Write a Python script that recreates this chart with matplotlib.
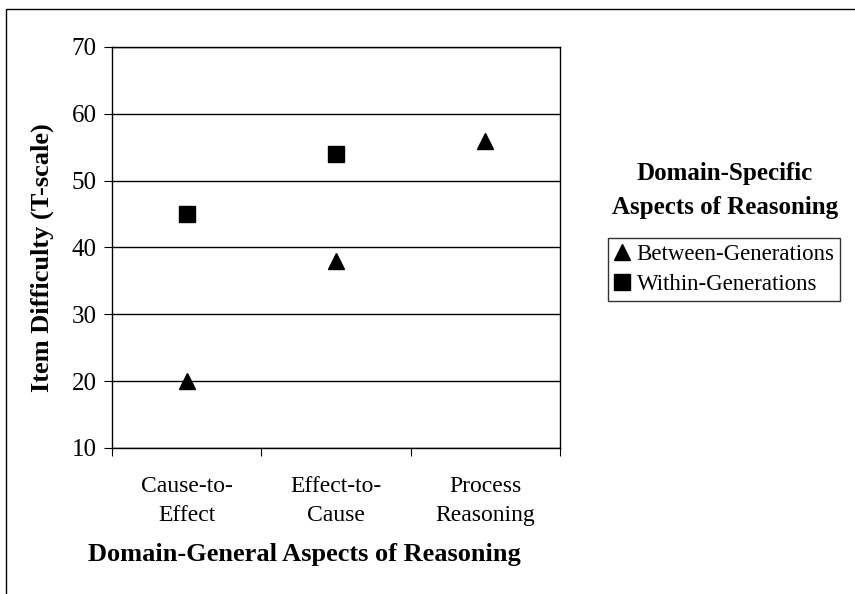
import matplotlib
matplotlib.use('Agg')
import matplotlib.pyplot as plt
from matplotlib.patches import Rectangle

categories = ['Cause-to-\nEffect', 'Effect-to-\nCause', 'Process\nReasoning']
between_gen = [20, 38, 56]
within_gen = [45, 54, None]

plt.rcParams['font.family'] = ['Liberation Serif', 'DejaVu Serif']

fig = plt.figure(figsize=(8.55, 5.94), dpi=100)
ax = fig.add_axes([0.131, 0.2458, 0.524, 0.6751])

x = [0.5, 1.5, 2.5]
ax.plot(x, between_gen, linestyle='none', marker='^', color='black', markersize=12,
        label='Between-Generations')
wx = [xi for xi, v in zip(x, within_gen) if v is not None]
wy = [v for v in within_gen if v is not None]
ax.plot(wx, wy, linestyle='none', marker='s', color='black', markersize=11,
        label='Within-Generations')

ax.set_xlim(0, 3)
ax.set_ylim(10, 70)
ax.set_yticks(range(10, 71, 10))
ax.yaxis.grid(True, color='black', linewidth=1)
ax.set_axisbelow(True)
ax.set_xticks([0, 1, 2, 3])
ax.set_xticklabels([])
ax.set_xticks(x, minor=True)
ax.set_xticklabels(categories, minor=True, fontsize=17, linespacing=1.5)
ax.tick_params(axis='x', which='minor', length=0, pad=20)
ax.tick_params(axis='x', which='major', length=6, direction='out')
ax.tick_params(axis='y', length=6, direction='out', labelsize=18, pad=5)
for s in ['top', 'right', 'left', 'bottom']:
    ax.spines[s].set_linewidth(1)

# axis titles placed like in the original (slightly off-centre)
fig.text(42 / 855, 1 - 258 / 594, 'Item Difficulty (T-scale)', rotation=90,
         ha='center', va='center', fontsize=19, fontweight='bold')
fig.text(304 / 855, 1 - 555 / 594, 'Domain-General Aspects of Reasoning',
         ha='center', va='center', fontsize=19, fontweight='bold')

fig.text(0.848, 1 - 190.5 / 594, 'Domain-Specific\nAspects of Reasoning', ha='center',
         va='center', fontsize=18, fontweight='bold', linespacing=1.6)
leg = fig.legend(loc='upper left', bbox_to_anchor=(608 / 855, 1 - 238 / 594), frameon=True,
                 fancybox=False, edgecolor='black', fontsize=16.5, handlelength=0.75,
                 handletextpad=0.25, borderpad=0.25, labelspacing=0.4, borderaxespad=0)
leg.get_frame().set_linewidth(1)

fig.patches.append(Rectangle((0.007, -0.1), 1.2, 1.085, transform=fig.transFigure,
                             fill=False, edgecolor='black', linewidth=1))

fig.savefig('out.png', dpi=100)
